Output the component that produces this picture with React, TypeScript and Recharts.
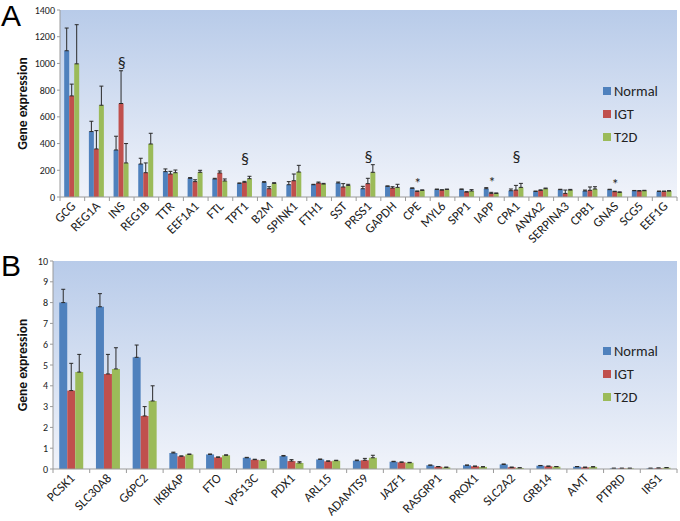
import { Bar, BarChart, CartesianGrid, ErrorBar, Legend, ReferenceDot, XAxis, YAxis } from "recharts";

const FONT = "Carlito, Lato, 'Open Sans', sans-serif";

// panel A
const genesA = ["GCG", "REG1A", "INS", "REG1B", "TTR", "EEF1A1", "FTL", "TPT1", "B2M", "SPINK1", "FTH1", "SST", "PRSS1", "GAPDH", "CPE", "MYL6", "SPP1", "IAPP", "CPA1", "ANXA2", "SERPINA3", "CPB1", "GNAS", "SCG5", "EEF1G"];
const normalA = [1095, 490, 352, 247, 190, 140, 135, 102, 110, 92, 92, 105, 62, 80, 65, 57, 57, 62, 47, 42, 55, 45, 55, 47, 42];
const igtA = [757, 360, 700, 182, 172, 115, 180, 110, 62, 122, 105, 75, 100, 67, 42, 52, 37, 27, 52, 50, 27, 50, 40, 45, 42];
const t2dA = [997, 687, 255, 397, 182, 185, 120, 137, 102, 187, 97, 87, 185, 72, 50, 57, 45, 27, 72, 62, 52, 60, 35, 47, 45];
const normalErrA = [170, 77, 103, 43, 20, 5, 5, 3, 5, 23, 3, 7, 18, 3, 3, 2, 3, 8, 13, 2, 3, 7, 3, 2, 2];
const igtErrA = [88, 137, 245, 73, 20, 14, 15, 7, 15, 50, 7, 25, 40, 10, 3, 2, 3, 8, 35, 3, 25, 25, 3, 3, 2];
const t2dErrA = [293, 143, 145, 80, 20, 15, 15, 18, 5, 50, 5, 8, 57, 23, 3, 2, 10, 3, 30, 5, 5, 17, 3, 3, 2];
const ticksA = [0, 200, 400, 600, 800, 1000, 1200, 1400];
const marksA = [
  { gene: "INS", sign: "§", at: 1010 },
  { gene: "TPT1", sign: "§", at: 292 },
  { gene: "PRSS1", sign: "§", at: 307 },
  { gene: "CPE", sign: "*", at: 108 },
  { gene: "IAPP", sign: "*", at: 113 },
  { gene: "CPA1", sign: "§", at: 307 },
  { gene: "GNAS", sign: "*", at: 103 },
];

// panel B
const genesB = ["PCSK1", "SLC30A8", "G6PC2", "IKBKAP", "FTO", "VPS13C", "PDX1", "ARL15", "ADAMTS9", "JAZF1", "RASGRP1", "PROX1", "SLC2A2", "GRB14", "AMT", "PTPRD", "IRS1"];
const normalB = [8.0, 7.8, 5.37, 0.77, 0.7, 0.54, 0.62, 0.46, 0.4, 0.35, 0.18, 0.18, 0.22, 0.16, 0.11, 0.03, 0.03];
const igtB = [3.77, 4.57, 2.55, 0.61, 0.56, 0.45, 0.38, 0.37, 0.42, 0.32, 0.11, 0.13, 0.08, 0.13, 0.08, 0.03, 0.04];
const t2dB = [4.66, 4.81, 3.27, 0.7, 0.66, 0.42, 0.29, 0.4, 0.54, 0.3, 0.08, 0.1, 0.05, 0.11, 0.1, 0.03, 0.06];
const normalErrB = [0.64, 0.63, 0.59, 0.04, 0.02, 0.02, 0.03, 0.02, 0.03, 0.02, 0.01, 0.01, 0.02, 0.01, 0.01, 0.01, 0.01];
const igtErrB = [1.31, 0.94, 0.45, 0.02, 0.02, 0.02, 0.07, 0.02, 0.09, 0.02, 0.01, 0.01, 0.01, 0.01, 0.01, 0.01, 0.01];
const t2dErrB = [0.85, 1.02, 0.73, 0.02, 0.02, 0.02, 0.06, 0.02, 0.12, 0.02, 0.01, 0.01, 0.01, 0.01, 0.01, 0.01, 0.01];
const ticksB = [0, 1, 2, 3, 4, 5, 6, 7, 8, 9, 10];

const SERIES = ["Normal", "IGT", "T2D"];
const COLORS = { normal: "#4f81bd", igt: "#c0504d", t2d: "#9bbb59" };

function rows(genes: string[], n: number[], i: number[], t: number[], en: number[], ei: number[], et: number[]) {
  return genes.map((gene, k) => ({
    gene,
    normal: n[k],
    igt: i[k],
    t2d: t[k],
    errNormal: [0, en[k]],
    errIgt: [0, ei[k]],
    errT2d: [0, et[k]],
  }));
}

const dataA = rows(genesA, normalA, igtA, t2dA, normalErrA, igtErrA, t2dErrA);
const dataB = rows(genesB, normalB, igtB, t2dB, normalErrB, igtErrB, t2dErrB);

function GeneTick(props: any) {
  const { x, y, payload, index, band, count } = props;
  const axisY = y - 6;
  const tx = x + 4;
  const ty = y + 4;
  return (
    <g>
      <line x1={x - band / 2} y1={axisY} x2={x - band / 2} y2={axisY + 4} stroke="#9a9a9a" />
      {index === count - 1 && <line x1={x + band / 2} y1={axisY} x2={x + band / 2} y2={axisY + 4} stroke="#9a9a9a" />}
      <text x={tx} y={ty} transform={`rotate(-45 ${tx} ${ty})`} textAnchor="end" fontSize={13} fill="#222" fontFamily={FONT}>
        {payload.value}
      </text>
    </g>
  );
}

function LegendBox(props: any) {
  const items = [...(props.payload || [])].sort((a: any, b: any) => SERIES.indexOf(a.value) - SERIES.indexOf(b.value));
  return (
    <div style={{ fontFamily: FONT, fontSize: 14.5, color: "#222" }}>
      {items.map((p: any) => (
        <div key={p.value} style={{ display: "flex", alignItems: "center", height: 23 }}>
          <span style={{ width: 8, height: 8, background: p.color, marginRight: 3 }} />
          {p.value}
        </div>
      ))}
    </div>
  );
}

function Panel(props: {
  data: any[];
  id: string;
  height: number;
  top: number;
  xHeight: number;
  yWidth: number;
  domain: number[];
  ticks: number[];
  labelDx: number;
  legendTop: number;
  marks?: { gene: string; sign: string; at: number }[];
}) {
  const { data, id, height, top, xHeight, yWidth, domain, ticks, labelDx, legendTop, marks = [] } = props;
  const band = (680 - 3 - yWidth) / data.length;
  return (
    <BarChart
      width={680}
      height={height}
      data={data}
      margin={{ top, right: 3, bottom: 0, left: 0 }}
      barCategoryGap="17%"
      barGap={0}
    >
      <defs>
        <linearGradient id={id} x1="0" y1="0" x2="0" y2="1">
          <stop offset="0%" stopColor="#b8cbe9" />
          <stop offset="100%" stopColor="#f0f3fa" />
        </linearGradient>
      </defs>
      <CartesianGrid horizontal={false} vertical={false} fill={`url(#${id})`} />
      <XAxis
        dataKey="gene"
        interval={0}
        height={xHeight}
        tickLine={false}
        tickSize={4}
        tickMargin={2}
        axisLine={{ stroke: "#9a9a9a" }}
        tick={(p: any) => <GeneTick {...p} band={band} count={data.length} />}
      />
      <YAxis
        width={yWidth}
        domain={domain}
        ticks={ticks}
        allowDataOverflow
        tickSize={3}
        tickLine={{ stroke: "#9a9a9a" }}
        axisLine={{ stroke: "#9a9a9a" }}
        tick={{ fontSize: 10, fill: "#222", fontFamily: FONT }}
        label={{ value: "Gene expression", angle: -90, position: "center", dx: labelDx, fontSize: 13.5, fontWeight: "bold", fill: "#111", fontFamily: FONT }}
      />
      <Legend
        layout="vertical"
        align="center"
        verticalAlign="middle"
        content={<LegendBox />}
        wrapperStyle={{ left: 603, top: legendTop, width: 80 }}
      />
      <Bar dataKey="normal" name="Normal" fill={COLORS.normal} isAnimationActive={false}>
        <ErrorBar dataKey="errNormal" width={2} stroke="#2a2a2a" strokeWidth={1} direction="y" />
      </Bar>
      <Bar dataKey="igt" name="IGT" fill={COLORS.igt} isAnimationActive={false}>
        <ErrorBar dataKey="errIgt" width={2} stroke="#2a2a2a" strokeWidth={1} direction="y" />
      </Bar>
      <Bar dataKey="t2d" name="T2D" fill={COLORS.t2d} isAnimationActive={false}>
        <ErrorBar dataKey="errT2d" width={2} stroke="#2a2a2a" strokeWidth={1} direction="y" />
      </Bar>
      {marks.map((m) => (
        <ReferenceDot
          key={m.gene}
          x={m.gene}
          y={m.at}
          r={1}
          fill="none"
          stroke="none"
          label={{ value: m.sign, position: "center", fontSize: m.sign === "§" ? 16 : 15, fill: "#222", fontFamily: FONT }}
        />
      ))}
    </BarChart>
  );
}

export default function App() {
  return (
    <div style={{ position: "absolute", left: 0, top: 0, width: 680, height: 521, background: "#fff" }}>
      <div style={{ position: "absolute", left: 1, top: 0, fontFamily: "'Liberation Sans', Arial, sans-serif", fontSize: 30, lineHeight: "32px" }}>A</div>
      <div style={{ position: "absolute", left: 1, top: 250, fontFamily: "'Liberation Sans', Arial, sans-serif", fontSize: 30, lineHeight: "32px" }}>B</div>
      <div style={{ position: "absolute", left: 0, top: 0 }}>
        <Panel data={dataA} id="bgA" height={250} top={10} xHeight={53} yWidth={60} domain={[0, 1400]} ticks={ticksA} labelDx={-8} legendTop={79} marks={marksA} />
      </div>
      <div style={{ position: "absolute", left: 0, top: 250 }}>
        <Panel data={dataB} id="bgB" height={271} top={11} xHeight={52} yWidth={53} domain={[0, 10]} ticks={ticksB} labelDx={-4} legendTop={89} />
      </div>
    </div>
  );
}
